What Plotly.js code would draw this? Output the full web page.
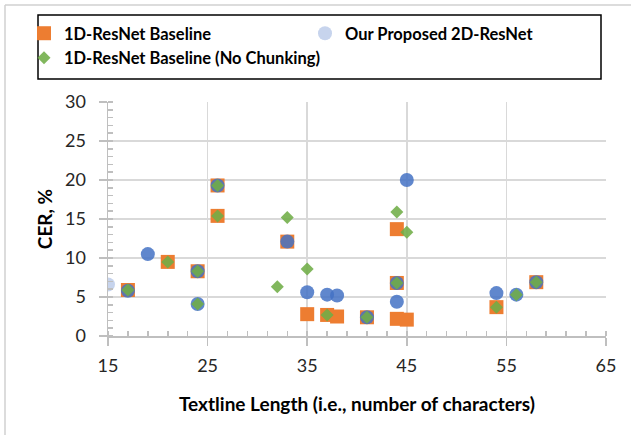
<!DOCTYPE html>
<html>
<head>
<meta charset="utf-8">
<script src="https://cdn.plot.ly/plotly-3.0.1.min.js"></script>
<style>
  html, body { margin: 0; padding: 0; background: #ffffff; }
  #chart { width: 631px; height: 435px; }
</style>
</head>
<body>
<div id="chart"></div>
<script>
// ---- data ----
const seriesNames = ["1D-ResNet Baseline", "Our Proposed 2D-ResNet", "1D-ResNet Baseline (No Chunking)"];

const baselineX = [17, 21, 24, 26, 26, 33, 35, 37, 38, 41, 44, 44, 44, 45, 54, 58];
const baselineY = [5.9, 9.5, 8.3, 19.3, 15.4, 12.1, 2.8, 2.7, 2.5, 2.4, 13.7, 6.8, 2.2, 2.1, 3.7, 6.9];

const proposedX = [15, 17, 19, 24, 24, 26, 33, 35, 37, 38, 41, 44, 44, 45, 54, 56, 58];
const proposedY = [6.6, 5.8, 10.5, 8.3, 4.1, 19.3, 12.1, 5.6, 5.3, 5.2, 2.4, 6.8, 4.4, 20.0, 5.5, 5.3, 6.9];

const noChunkX = [17, 21, 24, 24, 26, 26, 32, 33, 35, 37, 41, 44, 44, 45, 54, 56, 58];
const noChunkY = [5.9, 9.5, 8.3, 4.1, 19.3, 15.4, 6.3, 15.2, 8.6, 2.7, 2.4, 15.9, 6.8, 13.3, 3.7, 5.3, 6.9];

const xTickVals = [15, 25, 35, 45, 55, 65];
const yTickVals = [0, 5, 10, 15, 20, 25, 30];

const xTitle = "Textline Length (i.e., number of characters)";
const yTitle = "CER, %";

// ---- styling ----
const FONT = "Lato, 'Open Sans', sans-serif";
const M = { l: 108, r: 25, t: 102, b: 99 };
const W = 631, H = 435;
const pw = W - M.l - M.r, ph = H - M.t - M.b;
const px2x = p => (p - M.l) / pw;
const py2y = p => (H - M.b - p) / ph;

const proposedColors = proposedX.map((_, i) => i === 0 ? "rgba(68,114,196,0.3)" : "rgba(68,114,196,0.85)");

const traces = [
  { type: "scatter", mode: "markers", name: seriesNames[0], x: baselineX, y: baselineY,
    marker: { symbol: "square", size: 14, color: "#ED7D31", line: { width: 0 } } },
  { type: "scatter", mode: "markers", name: seriesNames[1], x: proposedX, y: proposedY,
    marker: { symbol: "circle", size: 14, color: proposedColors, line: { width: 0 } } },
  { type: "scatter", mode: "markers", name: seriesNames[2], x: noChunkX, y: noChunkY,
    marker: { symbol: "diamond", size: 10, color: "rgba(112,173,71,0.88)", line: { width: 0 } } }
];

const axisCommon = {
  showline: true, linecolor: "#bfbfbf", linewidth: 1.5,
  showgrid: true, gridcolor: "#d9d9d9", gridwidth: 1.5,
  zeroline: false,
  ticks: "outside", ticklen: 8, tickcolor: "#bfbfbf", tickwidth: 1.5,
  tickfont: { family: FONT, size: 18, color: "#262626" },
  fixedrange: true
};

const layout = {
  width: W, height: H,
  margin: M,
  paper_bgcolor: "#ffffff", plot_bgcolor: "#ffffff",
  font: { family: FONT, color: "#000000" },
  showlegend: true,
  legend: {
    orientation: "h",
    x: px2x(24), xanchor: "left",
    y: py2y(16), yanchor: "top",
    borderwidth: 0,
    bgcolor: "rgba(0,0,0,0)",
    entrywidth: 236,
    font: { family: FONT, size: 16.5, weight: "bold", color: "#000000" },
    itemclick: false, itemdoubleclick: false
  },
  xaxis: Object.assign({}, axisCommon, {
    range: [15, 65], tickvals: xTickVals,
    ticklabelstandoff: 5,
    minor: { dtick: 2, tick0: 15, ticks: "inside", ticklen: 5, tickcolor: "#bfbfbf", tickwidth: 1.5, showgrid: false },
    title: { text: xTitle, font: { family: FONT, size: 19, weight: "bold", color: "#000000" }, standoff: 22 }
  }),
  yaxis: Object.assign({}, axisCommon, {
    range: [0, 30], tickvals: yTickVals,
    ticklabelstandoff: 9,
    minor: { dtick: 1, tick0: 0, ticks: "inside", ticklen: 5, tickcolor: "#bfbfbf", tickwidth: 1.5, showgrid: false },
    title: { text: yTitle, font: { family: FONT, size: 19, weight: "bold", color: "#000000" }, standoff: 7 }
  }),
  shapes: [
    // chart-area outer border (top and left edges visible)
    { type: "line", xref: "paper", yref: "paper", x0: px2x(5), x1: px2x(640), y0: py2y(5), y1: py2y(5),
      line: { color: "#d0d0d0", width: 1.5 }, layer: "below" },
    { type: "line", xref: "paper", yref: "paper", x0: px2x(5), x1: px2x(5), y0: py2y(5), y1: py2y(445),
      line: { color: "#d0d0d0", width: 1.5 }, layer: "below" },
    // legend frame
    { type: "rect", xref: "paper", yref: "paper", x0: px2x(38), x1: px2x(601), y0: py2y(15), y1: py2y(79),
      line: { color: "#000000", width: 1.5 }, fillcolor: "rgba(0,0,0,0)", layer: "above" }
  ]
};

Plotly.newPlot("chart", traces, layout, { displayModeBar: false, staticPlot: true });
</script>
</body>
</html>
